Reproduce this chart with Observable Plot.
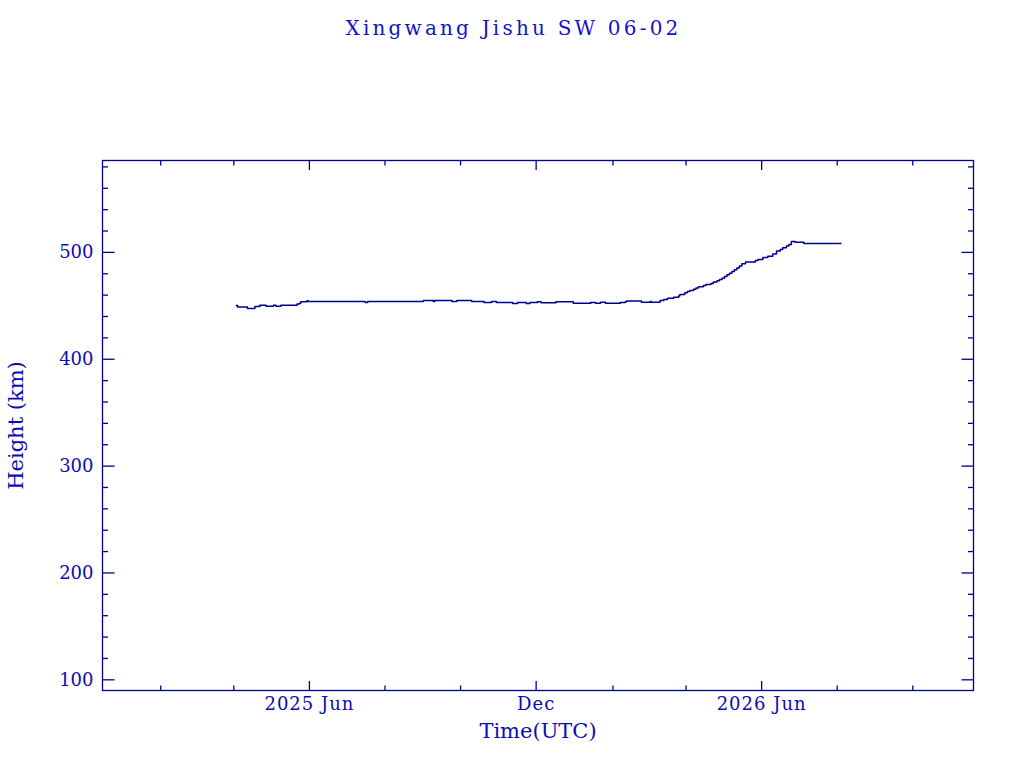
<!DOCTYPE html>
<html>
<head>
<meta charset="utf-8">
<script src="https://cdn.jsdelivr.net/npm/d3@7"></script>
<script src="https://cdn.jsdelivr.net/npm/@observablehq/plot@0.6"></script>
<style>
  html, body { margin: 0; padding: 0; background: #ffffff; }
  #title {
    box-sizing: border-box; width: 1024px; height: 50px; padding-top: 18px;
    text-align: center; font-family: "DejaVu Serif"; font-size: 20px; line-height: 20px;
    letter-spacing: 3.2px; padding-left: 3px; color: #1212cc;
  }
  g[aria-label="x-axis tick label"] text { letter-spacing: 1px; }
  g[aria-label="ytitle"] text { letter-spacing: 2px; }
  g[aria-label="xtitle"] text { letter-spacing: 0.4px; }
</style>
</head>
<body>
<div id="title"></div>
<div id="chart"></div>
<script>
// ---- data ----
const titleText = "Xingwang Jishu SW 06-02";
const xTitle = "Time(UTC)";
const yTitle = "Height (km)";

const dates = [
  "2025-04-03","2025-04-04","2025-04-12","2025-04-18","2025-04-22","2025-04-27",
  "2025-05-03","2025-05-05","2025-05-09","2025-05-22","2025-05-24","2025-05-25",
  "2025-05-30","2025-05-31","2025-07-16","2025-07-18","2025-09-01","2025-09-09",
  "2025-09-10","2025-09-24","2025-09-28","2025-10-10","2025-10-20","2025-10-26",
  "2025-10-30","2025-11-12","2025-11-16","2025-11-23","2025-11-26","2025-12-02",
  "2025-12-05","2025-12-17","2025-12-31","2026-01-14","2026-01-18","2026-01-22",
  "2026-01-26","2026-02-07","2026-02-11","2026-02-12","2026-02-24","2026-03-03",
  "2026-03-04","2026-03-11","2026-03-14","2026-03-17","2026-03-22","2026-03-26",
  "2026-03-27","2026-03-31","2026-04-02","2026-04-04","2026-04-07","2026-04-09",
  "2026-04-11","2026-04-15","2026-04-17","2026-04-21","2026-04-23","2026-04-26",
  "2026-04-28","2026-04-30","2026-05-02","2026-05-04","2026-05-06","2026-05-08",
  "2026-05-10","2026-05-12","2026-05-14","2026-05-16","2026-05-19","2026-05-27",
  "2026-05-29","2026-06-02","2026-06-06","2026-06-10","2026-06-13","2026-06-16",
  "2026-06-18","2026-06-21","2026-06-23","2026-06-25","2026-06-28","2026-07-05",
  "2026-08-04"
];
const heights = [
  450.4,448.8,447.5,449.4,450.6,449.7,
  450.6,449.7,450.6,451.6,452.5,453.7,
  454.7,454.1,453.2,454.1,455.0,454.1,
  455.0,454.1,455.0,454.1,453.2,454.1,
  453.2,452.2,453.2,452.2,453.2,453.7,
  452.8,453.7,452.5,453.2,452.5,453.4,
  452.5,453.0,453.7,454.4,453.4,454.1,
  453.4,455.0,456.0,457.2,458.1,459.1,
  460.7,462.2,463.5,464.4,465.6,466.6,
  467.8,469.1,470.0,471.0,472.2,473.4,
  474.7,475.9,477.5,479.0,480.6,482.2,
  483.7,485.3,487.2,489.3,490.9,492.5,
  493.4,495.3,496.5,498.4,501.2,502.8,
  504.3,505.9,507.5,510.3,509.4,508.4,
  508.4
];

const xDomain = ["2024-12-16", "2026-11-19"];
const yDomain = [90, 586];

const xMajorTicks = ["2025-06-01", "2025-12-01", "2026-06-01"];
const xTickLabels = ["2025 Jun", "Dec", "2026 Jun"];
const xMinorTicks = ["2025-02-01","2025-04-01","2025-08-01","2025-10-01",
                     "2026-02-01","2026-04-01","2026-08-01","2026-10-01"];
const yMajorTicks = [100, 200, 300, 400, 500];
const yMinorTicks = [120,140,160,180,220,240,260,280,320,340,360,380,
                     420,440,460,480,520,540,560,580];

// ---- build ----
const utc = s => new Date(s + "T00:00:00Z");
const data = dates.map((d, i) => ({date: utc(d), height: heights[i]}));
const xMaj = xMajorTicks.map(utc);
const xMin = xMinorTicks.map(utc);
const labelFor = new Map(xMaj.map((d, i) => [+d, xTickLabels[i]]));

const ink = "#000090";
const txt = "#0c0cb4";
const sw = 1.3;
const none = () => "";

const chart = Plot.plot({
  width: 1024,
  height: 718,
  marginTop: 110,
  marginRight: 51,
  marginBottom: 78,
  marginLeft: 102,
  style: {fontFamily: "DejaVu Serif", background: "#ffffff", color: ink, overflow: "visible"},
  x: {type: "utc", domain: xDomain.map(utc)},
  y: {domain: yDomain},
  marks: [
    // inward ticks on all four sides
    Plot.axisX({anchor: "bottom", ticks: xMaj, tickSize: -9, tickFormat: none, label: null, stroke: ink, strokeWidth: sw}),
    Plot.axisX({anchor: "bottom", ticks: xMin, tickSize: -4.5, tickFormat: none, label: null, stroke: ink, strokeWidth: sw}),
    Plot.axisX({anchor: "top", ticks: xMaj, tickSize: -9, tickFormat: none, label: null, stroke: ink, strokeWidth: sw}),
    Plot.axisX({anchor: "top", ticks: xMin, tickSize: -4.5, tickFormat: none, label: null, stroke: ink, strokeWidth: sw}),
    Plot.axisY({anchor: "left", ticks: yMajorTicks, tickSize: -12.5, tickFormat: none, label: null, stroke: ink, strokeWidth: sw}),
    Plot.axisY({anchor: "left", ticks: yMinorTicks, tickSize: -6, tickFormat: none, label: null, stroke: ink, strokeWidth: sw}),
    Plot.axisY({anchor: "right", ticks: yMajorTicks, tickSize: -12.5, tickFormat: none, label: null, stroke: ink, strokeWidth: sw}),
    Plot.axisY({anchor: "right", ticks: yMinorTicks, tickSize: -6, tickFormat: none, label: null, stroke: ink, strokeWidth: sw}),
    // tick labels
    Plot.axisX({anchor: "bottom", ticks: xMaj, tickSize: 0, tickPadding: 7, label: null,
                tickFormat: d => labelFor.get(+d), fontSize: 18, fill: txt}),
    Plot.axisY({anchor: "left", ticks: yMajorTicks, tickSize: 0, tickPadding: 9, label: null,
                tickFormat: d => String(d), fontSize: 18, fill: txt}),
    Plot.frame({stroke: ink, strokeWidth: sw}),
    // the data
    Plot.line(data, {x: "date", y: "height", curve: "step-after", stroke: ink, strokeWidth: 1.5}),
    // axis titles
    Plot.text([xTitle], {text: d => d, frameAnchor: "bottom", dy: 47, lineAnchor: "bottom",
                         textAnchor: "middle", fontSize: 21, fill: txt, ariaLabel: "xtitle"}),
    Plot.text([yTitle], {text: d => d, frameAnchor: "left", dx: -80, rotate: -90, lineAnchor: "bottom",
                         textAnchor: "middle", fontSize: 21, fill: txt, ariaLabel: "ytitle"})
  ]
});
document.getElementById("title").textContent = titleText;
document.getElementById("chart").appendChild(chart);
</script>
</body>
</html>
